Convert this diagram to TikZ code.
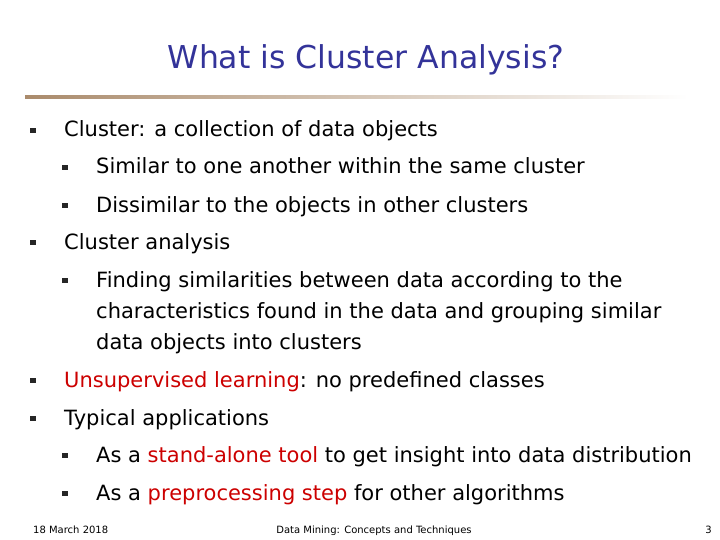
\documentclass[tikz,border=0pt]{standalone}
\usepackage{fontspec}
\setmainfont{DejaVu Sans}
\begin{document}
\begin{tikzpicture}[x=1pt,y=-1pt,
  txt/.style={anchor=base west,font=\fontsize{21}{31}\selectfont,inner sep=0pt},
  bul/.style={fill=black!85,minimum size=5.5pt,inner sep=0pt},
  foot/.style={anchor=base,font=\fontsize{10}{12}\selectfont,inner sep=0pt}]
\useasboundingbox (0,0) rectangle (720,540);
\definecolor{ttl}{HTML}{333399}
\definecolor{hl}{HTML}{CC0000}
\node[anchor=base,font=\fontsize{31.5}{36}\selectfont,text=ttl] (title) at (366,69) {What is Cluster Analysis?};
\shade[left color=black!30!brown!70, right color=white] (25,96) rectangle (688,99);
\foreach \y/\n in {137/a,249/b,387/c,425/d}{\node[bul] (b\n) at (33,\y-6.5) {};}
\foreach \y/\n in {174/a,212/b,287/c,462/d,500/e}{\node[bul] (s\n) at (65,\y-6.5) {};}
\node[txt] (t1) at (64,137) {Cluster: a collection of data objects};
\node[txt] (t2) at (96,174) {Similar to one another within the same cluster};
\node[txt] (t3) at (96,212) {Dissimilar to the objects in other clusters};
\node[txt] (t4) at (64,249) {Cluster analysis};
\node[txt] (t5a) at (96,287) {Finding similarities between data according to the};
\node[txt] (t5b) at (96,318) {characteristics found in the data and grouping similar};
\node[txt] (t5c) at (96,349) {data objects into clusters};
\node[txt] (t6) at (64,387) {\textcolor{hl}{Unsupervised learning}: no predefined classes};
\node[txt] (t7) at (64,425) {Typical applications};
\node[txt] (t8) at (96,462) {As a \textcolor{hl}{stand-alone tool} to get insight into data distribution};
\node[txt] (t9) at (96,500) {As a \textcolor{hl}{preprocessing step} for other algorithms};
\node[foot,anchor=base west] (f1) at (33,533) {18 March 2018};
\node[foot] (f2) at (374,533) {Data Mining: Concepts and Techniques};
\node[foot,anchor=base east] (f3) at (712,533) {3};
\end{tikzpicture}
\end{document}
